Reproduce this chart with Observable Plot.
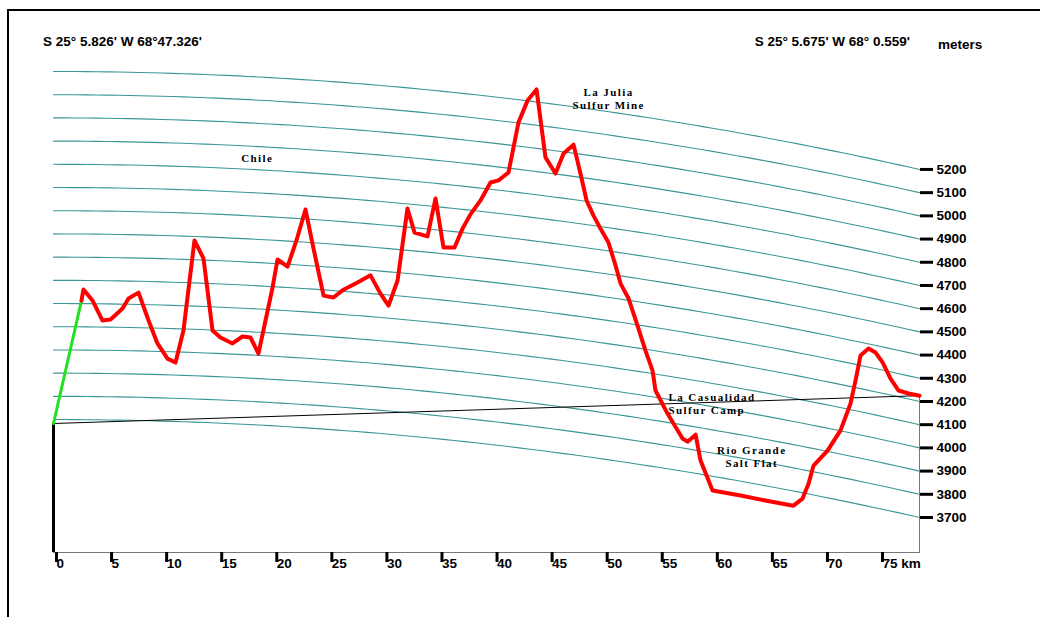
<!DOCTYPE html>
<html>
<head>
<meta charset="utf-8">
<script src="https://cdn.jsdelivr.net/npm/d3@7"></script>
<script src="https://cdn.jsdelivr.net/npm/@observablehq/plot@0.6"></script>
<style>
  html, body { margin: 0; padding: 0; background: #fff; overflow: hidden; }
  #wrap { position: relative; width: 1040px; height: 617px; overflow: hidden; }
  #border { position: absolute; left: 7px; top: 9px; width: 1100px; height: 700px;
            border-left: 2px solid #000; border-top: 2px solid #000; }
  #chart { position: absolute; left: 0; top: 0; }
  .coord { position: absolute; font: bold 13.5px "Liberation Sans", Arial, sans-serif;
           color: #000; white-space: nowrap; line-height: 16px; }
  #chart g[aria-label="text"] text { letter-spacing: 1.4px; }
</style>
</head>
<body>
<div id="wrap">
  <div id="border"></div>
  <div id="chart"></div>
  <div class="coord" style="left:43px;top:34px">S 25° 5.826' W 68°47.326'</div>
  <div class="coord" style="right:130px;top:34px">S 25° 5.675' W 68° 0.559'</div>
  <div class="coord" style="left:938px;top:37px">meters</div>
</div>
<script>
// Terrain profile along the path (distance from start in km, ground elevation in m)
const distanceKm = [0, 2.54, 2.72, 3.54, 4.45, 5.18, 6.27, 6.81, 7.72, 8.63, 9.44, 10.35, 11.08, 11.80,
  12.80, 13.62, 14.44, 15.16, 16.25, 17.16, 17.89, 18.61, 19.89, 20.34, 21.25, 22.06, 22.88, 23.61,
  24.52, 25.42, 26.33, 27.60, 28.78, 29.69, 30.42, 31.24, 32.14, 32.78, 33.96, 34.69, 35.41, 36.41,
  37.14, 37.86, 38.77, 39.68, 40.41, 41.31, 42.22, 43.04, 43.86, 44.67, 45.58, 46.31, 47.22, 47.85,
  48.40, 49.03, 49.67, 50.39, 51.03, 51.49, 52.21, 52.94, 53.75, 54.39, 54.66, 55.75, 57.11, 57.57,
  58.30, 58.75, 59.84, 62.38, 65.11, 67.19, 68.01, 68.56, 69.01, 70.28, 71.46, 72.37, 72.82, 73.28,
  74.00, 74.64, 75.28, 76.00, 76.73, 77.64, 78.63];
const elevationM = [3683, 4213, 4261, 4214, 4128, 4133, 4181, 4225, 4251, 4132, 4034, 3970, 3954, 4093,
  4483, 4407, 4098, 4069, 4046, 4078, 4075, 4008, 4296, 4418, 4390, 4505, 4641, 4475,
  4275, 4270, 4307, 4343, 4378, 4303, 4254, 4366, 4680, 4579, 4568, 4735, 4527, 4532,
  4617, 4682, 4747, 4829, 4842, 4881, 5102, 5201, 5254, 4966, 4902, 4993, 5037, 4916,
  4804, 4743, 4691, 4636, 4542, 4467, 4408, 4309, 4194, 4113, 4029, 3938, 3841, 3831,
  3867, 3759, 3639, 3638, 3636, 3637, 3675, 3745, 3827, 3903, 4002, 4127, 4230, 4343,
  4380, 4369, 4333, 4271, 4227, 4224, 4225];
// Number of leading profile points in view from the start (drawn green)
const visiblePoints = 2;

// Constant-elevation reference curves (m) and distance ticks (km)
const elevationLevels = [3700, 3800, 3900, 4000, 4100, 4200, 4300, 4400, 4500, 4600, 4700, 4800, 4900, 5000, 5100, 5200];
const kmTicks = [0, 5, 10, 15, 20, 25, 30, 35, 40, 45, 50, 55, 60, 65, 70, 75];

// Place names along the route
const placeNames = ["La Julia\nSulfur Mine", "Chile", "La Casualidad\nSulfur Camp", "Rio Grande\nSalt Flat"];
const placeKm = [50.4, 18.5, 55.84, 63.4];
const placeHeight = [5086, 4829, 3769, 3543];
const placeAnchor = ["middle", "middle", "start", "middle"];

// Earth curvature with atmospheric refraction
const earthRadiusKm = 6371, refraction = 0.13;
const effRadiusKm = earthRadiusKm / (1 - refraction);
const dropM = d => (d * d) / (2 * effRadiusKm) * 1000;

const totalKm = distanceKm[distanceKm.length - 1];
const dropEnd = dropM(totalKm);

// Apparent height = elevation minus curvature drop from the start point
const profile = distanceKm.map((d, i) => ({d, e: elevationM[i], h: elevationM[i] - dropM(d)}));
const first = profile[0], last = profile[profile.length - 1];

const samples = d3.range(81).map(i => i * totalKm / 80);
const curves = elevationLevels.flatMap(level => samples.map(d => ({level, d, h: level - dropM(d)})));

const places = placeNames.map((t, i) => ({t, d: placeKm[i], h: placeHeight[i], a: placeAnchor[i]}));

const yDomain = [3127, 5200];
const labelFont = {fontFamily: "'Liberation Sans', Arial, sans-serif", fontWeight: "bold", fontSize: 13.5};
const placeFont = {fontFamily: "'Liberation Serif', 'Times New Roman', serif", fontWeight: "bold", fontSize: 11, fill: "#000", lineHeight: 1.2};

const chart = Plot.plot({
  width: 1040,
  height: 617,
  marginLeft: 53,
  marginRight: 121,
  marginTop: 71,
  marginBottom: 65,
  x: {domain: [0, totalKm], label: null},
  y: {domain: yDomain, label: null},
  style: {background: "transparent", color: "#000"},
  marks: [
    Plot.line(curves, {x: "d", y: "h", z: "level", stroke: "#3a9696", strokeWidth: 1.1}),
    Plot.frame({anchor: "bottom", stroke: "#777"}),
    Plot.ruleX([last], {x: "d", y1: "h", y2: yDomain[0], stroke: "#777", strokeWidth: 1}),
    Plot.ruleX([first], {x: "d", y1: "h", y2: yDomain[0], stroke: "#000", strokeWidth: 3}),
    Plot.line([first, last], {x: "d", y: "h", stroke: "#000", strokeWidth: 1}),
    Plot.line(profile.slice(0, visiblePoints), {x: "d", y: "h", stroke: "#22e022", strokeWidth: 3}),
    Plot.line(profile.slice(visiblePoints - 1), {x: "d", y: "h", stroke: "#ff0000", strokeWidth: 4,
      strokeLinejoin: "round", strokeLinecap: "round"}),
    Plot.text(places, {filter: p => p.a === "middle", x: "d", y: "h", text: "t", textAnchor: "middle", ...placeFont}),
    Plot.text(places, {filter: p => p.a === "start", x: "d", y: "h", text: "t", textAnchor: "start", ...placeFont}),
    Plot.axisX(kmTicks, {anchor: "bottom", label: null, tickSize: 10, tickPadding: -4, strokeWidth: 3,
      textAnchor: "start", dx: 3, tickFormat: d => d === 75 ? "75 km" : String(d), ...labelFont}),
    Plot.axisY(elevationLevels.map(l => l - dropEnd), {anchor: "right", label: null, tickSize: 13, tickPadding: 4,
      strokeWidth: 3, tickFormat: h => String(Math.round(h + dropEnd)), ...labelFont})
  ]
});
document.getElementById("chart").appendChild(chart);
</script>
</body>
</html>
